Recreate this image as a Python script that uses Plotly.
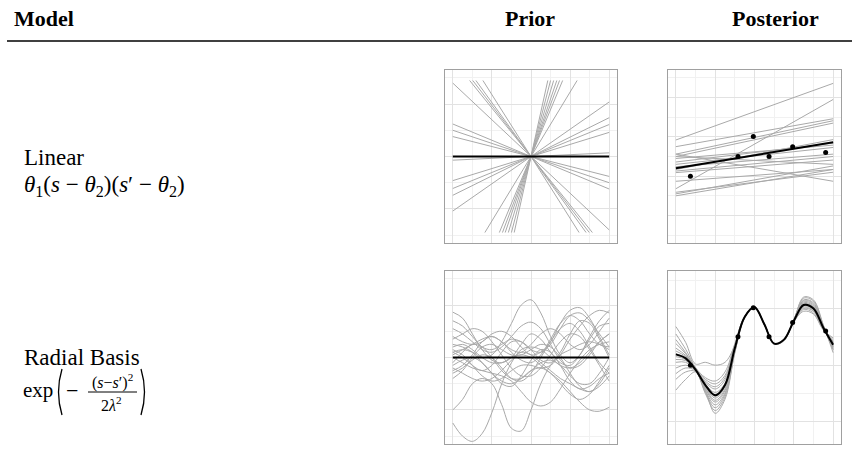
import plotly.graph_objects as go

W, H = 852, 464

# ---------------- data ----------------
# Linear prior: far end (x>0 side) of each sample line through the origin
prior_lin_xend = [2, 2, 2, 2, 1.57, 1.49, 1.41, 1.23,
                  2, 2, 2, 2, 2, 1.18, 0.81, 0.73, 0.66, 0.58, 0.50, 0.43]
prior_lin_yend = [-0.76, -1.0, -1.24, -2.8, -2.9, -2.9, -2.9, -2.9,
                  0.14, 0.92, 1.22, 1.48, 2.08, 2.9, 2.9, 2.9, 2.9, 2.9, 2.9, 2.9]
prior_lin_mean_x = [-2, 2]
prior_lin_mean_y = [0, 0]

# Linear posterior: samples given by value at x=-2 and x=2
post_lin_x = [-2, 2]
post_lin_left = [0.92, -0.32, 0.75, 0.56, 0.50, 0.17, 0.36, 0.45, 0.30,
                 0.24, 0.13, 0.09, 0.50, 0.56, -0.13, -0.41, -0.45, -0.50]
post_lin_right = [2.36, 1.95, 1.46, 1.41, 1.35, 0.93, 0.84, 0.79, 0.73,
                  0.56, 0.50, 0.41, 0.30, -0.13, 0.17, 0.10, 0.26, 0.17]
post_lin_mean_y = [0.20, 0.86]

# observations (shared by both posteriors)
obs_x = [-1.63, -0.42, -0.03, 0.37, 0.97, 1.81]
obs_y = [0.0, 0.50, 1.01, 0.50, 0.75, 0.60]

# RBF samples on a common grid
rbf_x = [-2, -1.75, -1.5, -1.25, -1, -0.75, -0.5, -0.25, 0,
         0.25, 0.5, 0.75, 1, 1.25, 1.5, 1.75, 2]

prior_rbf = [
    [1.73, 1.5, 0.9, 0.3, -0.1, -0.2, 0.0, 0.5, 0.9, 0.7, 0.2, -0.2, -0.3, 0.1, 0.8, 1.4, 1.8],
    [0.2, 0.3, 0.2, 0.0, 0.1, 0.6, 1.3, 2.0, 2.2, 1.7, 0.8, 0.1, -0.2, 0.1, 0.7, 1.2, 1.3],
    [1.1, 0.9, 0.6, 0.3, 0.2, 0.4, 0.8, 1.2, 1.35, 1.1, 0.5, -0.1, -0.4, -0.3, 0.1, 0.6, 0.9],
    [-2.0, -1.6, -1.0, -0.8, -1.0, -1.8, -2.7, -2.8, -2.0, -1.0, -0.3, 0.1, 0.3, 0.5, 0.6, 0.5, 0.3],
    [-2.5, -3.0, -3.2, -2.9, -2.1, -1.0, -0.2, 0.3, 0.4, 0.3, 0.0, -0.3, -0.4, -0.2, 0.2, 0.6, 0.9],
    [0.0, -0.2, -0.4, -0.5, -0.6, -0.7, -0.9, -1.3, -1.7, -1.85, -1.7, -1.2, -0.6, -0.1, 0.3, 0.5, 0.6],
    [0.4, 0.5, 0.3, 0.0, -0.2, -0.2, 0.0, 0.1, 0.0, -0.3, -0.6, -0.9, -1.3, -1.7, -2.0, -2.05, -1.9],
    [0.8, 0.6, 0.5, 0.6, 0.9, 1.0, 0.8, 0.4, 0.1, 0.2, 0.6, 1.3, 1.8, 1.9, 1.5, 0.8, 0.1],
    [1.4, 1.2, 0.8, 0.4, 0.3, 0.5, 0.7, 0.6, 0.3, 0.2, 0.5, 1.1, 1.6, 1.7, 1.4, 0.9, 0.4],
    [-0.6, -0.4, -0.1, 0.1, 0.0, -0.4, -0.8, -0.9, -0.6, 0.0, 0.6, 1.1, 1.3, 1.0, 0.4, -0.2, -0.6],
    [0.3, 0.1, -0.3, -0.7, -0.9, -0.8, -0.5, -0.3, -0.3, -0.4, -0.3, 0.1, 0.7, 1.2, 1.6, 1.8, 1.7],
    [-0.4, -0.6, -0.8, -0.9, -0.8, -0.5, -0.1, 0.2, 0.1, -0.2, -0.5, -0.8, -1.0, -1.2, -1.3, -1.1, -0.7],
    [0.7, 0.9, 1.1, 1.0, 0.6, 0.1, -0.4, -0.7, -0.7, -0.4, 0.1, 0.6, 0.9, 0.8, 0.3, -0.3, -0.9],
    [-0.2, 0.2, 0.5, 0.4, 0.0, -0.5, -0.8, -0.8, -0.5, -0.2, -0.1, -0.3, -0.7, -1.0, -1.0, -0.6, 0.0],
    [0.1, 0.3, 0.5, 0.7, 0.8, 0.6, 0.2, -0.1, -0.2, 0.1, 0.7, 1.3, 1.6, 1.4, 0.9, 0.5, 0.4],
    [-0.8, -0.5, 0.0, 0.4, 0.5, 0.3, 0.1, 0.1, 0.3, 0.5, 0.4, 0.0, -0.6, -1.1, -1.3, -1.0, -0.4],
    [0.5, 0.4, 0.2, -0.2, -0.6, -0.9, -1.0, -0.8, -0.5, -0.4, -0.6, -1.0, -1.4, -1.6, -1.4, -0.9, -0.3],
    [-0.5, -0.3, 0.1, 0.6, 0.8, 0.6, 0.3, 0.2, 0.5, 0.9, 1.1, 0.9, 0.5, 0.3, 0.5, 1.0, 1.5],
    [0.2, 0.0, -0.3, -0.5, -0.3, 0.2, 0.6, 0.6, 0.3, -0.1, -0.2, 0.2, 0.9, 1.4, 1.3, 0.7, 0.0],
    [-0.3, -0.1, 0.0, -0.2, -0.6, -1.0, -1.1, -0.7, -0.1, 0.3, 0.2, -0.3, -0.9, -1.2, -1.1, -0.8, -0.6],
]
prior_rbf_mean = [0] * len(rbf_x)

post_rbf = [
    [0.68, 0.40, 0.02, 0.05, 0.0, 0.05, 0.35, 0.86, 1.02, 0.71, 0.37, 0.44, 0.78, 1.08, 1.02, 0.67, 0.38],
    [-0.44, -0.25, -0.12, -0.45, -0.85, -0.60, 0.22, 0.84, 1.03, 0.73, 0.37, 0.43, 0.80, 1.18, 1.13, 0.70, 0.28],
    [0.45, 0.22, -0.06, -0.30, -0.42, -0.26, 0.33, 0.85, 1.01, 0.72, 0.39, 0.46, 0.77, 1.0, 0.95, 0.64, 0.42],
    [0.05, 0.05, -0.1, -0.42, -0.65, -0.45, 0.27, 0.85, 1.02, 0.72, 0.38, 0.45, 0.79, 1.12, 1.06, 0.67, 0.32],
    [0.30, 0.17, -0.07, -0.28, -0.38, -0.22, 0.35, 0.86, 1.02, 0.72, 0.37, 0.44, 0.76, 0.98, 0.92, 0.63, 0.45],
    [-0.15, -0.05, -0.1, -0.48, -0.75, -0.52, 0.24, 0.84, 1.02, 0.73, 0.38, 0.46, 0.80, 1.15, 1.10, 0.69, 0.30],
    [0.10, 0.08, -0.08, -0.38, -0.58, -0.38, 0.29, 0.85, 1.02, 0.72, 0.38, 0.45, 0.78, 1.08, 1.02, 0.66, 0.34],
    [0.25, 0.15, -0.07, -0.33, -0.48, -0.32, 0.31, 0.85, 1.02, 0.72, 0.38, 0.45, 0.77, 1.04, 0.98, 0.65, 0.38],
    [-0.05, 0.0, -0.09, -0.45, -0.70, -0.49, 0.25, 0.84, 1.02, 0.72, 0.38, 0.45, 0.79, 1.20, 1.15, 0.71, 0.22],
    [0.38, 0.20, -0.06, -0.25, -0.33, -0.18, 0.36, 0.86, 1.02, 0.72, 0.38, 0.45, 0.77, 0.95, 0.90, 0.62, 0.48],
    [0.15, 0.10, -0.08, -0.40, -0.62, -0.42, 0.28, 0.85, 1.02, 0.72, 0.38, 0.45, 0.78, 1.10, 1.04, 0.66, 0.33],
    [0.55, 0.28, -0.04, -0.22, -0.28, -0.12, 0.38, 0.86, 1.02, 0.72, 0.38, 0.45, 0.78, 1.05, 0.99, 0.65, 0.40],
    [-0.25, -0.12, -0.11, -0.50, -0.80, -0.56, 0.23, 0.84, 1.02, 0.72, 0.38, 0.45, 0.79, 1.14, 1.08, 0.68, 0.27],
    [0.20, 0.13, -0.08, -0.36, -0.55, -0.37, 0.30, 0.85, 1.02, 0.72, 0.38, 0.45, 0.78, 1.02, 0.96, 0.64, 0.40],
]
post_rbf_mean = [0.19, 0.12, -0.08, -0.35, -0.53, -0.35, 0.30, 0.85, 1.02,
                 0.72, 0.38, 0.45, 0.78, 1.06, 1.00, 0.66, 0.36]

# ---------------- figure ----------------
GRAY = "#a9a9a9"


def px(x):
    return x / W


def py(y):
    return 1 - y / H


fig = go.Figure()


def add_line(x, y, ax, color=GRAY, width=1, shape="linear"):
    fig.add_trace(go.Scatter(x=x, y=y, mode="lines", xaxis="x" + ax, yaxis="y" + ax,
                             line=dict(color=color, width=width, shape=shape),
                             hoverinfo="skip", showlegend=False))


# panel 1: linear prior
for xe, ye in zip(prior_lin_xend, prior_lin_yend):
    add_line([-xe, xe], [-ye, ye], "")
add_line(prior_lin_mean_x, prior_lin_mean_y, "", "black", 2)

# panel 2: linear posterior
for yl, yr in zip(post_lin_left, post_lin_right):
    add_line(post_lin_x, [yl, yr], "2")
add_line(post_lin_x, post_lin_mean_y, "2", "black", 2)

# panel 3: rbf prior
for s in prior_rbf:
    add_line(rbf_x, s, "3", shape="spline")
add_line(rbf_x, prior_rbf_mean, "3", "black", 2)

# panel 4: rbf posterior
for s in post_rbf:
    add_line(rbf_x, s, "4", shape="spline")
add_line(rbf_x, post_rbf_mean, "4", "black", 2, shape="spline")

for ax in ["2", "4"]:
    fig.add_trace(go.Scatter(x=obs_x, y=obs_y, mode="markers", xaxis="x" + ax, yaxis="y" + ax,
                             marker=dict(color="black", size=5), hoverinfo="skip", showlegend=False))

axis_style = dict(showticklabels=False, ticks="", zeroline=False, showline=True, mirror=True,
                  linecolor="#a0a0a0", linewidth=1, gridcolor="#e2e2e2", gridwidth=1,
                  fixedrange=True)


def xaxis(dom):
    return dict(axis_style, domain=[px(dom[0]), px(dom[1])], range=[-2.2, 2.2],
                tick0=0, dtick=1,
                minor=dict(showgrid=True, tick0=0, dtick=0.5, gridcolor="#f1f1f1", gridwidth=1))


def yaxis(dom, rng, dtick, anchor):
    return dict(axis_style, domain=[py(dom[1]), py(dom[0])], range=rng, tick0=0, dtick=dtick,
                anchor=anchor,
                minor=dict(showgrid=True, tick0=0, dtick=dtick / 2, gridcolor="#f1f1f1", gridwidth=1))


prior_x, post_x = (445, 617), (668, 841)
top_y, bot_y = (70, 243), (271, 444)

fig.update_layout(
    width=W, height=H, margin=dict(l=0, r=0, t=0, b=0),
    paper_bgcolor="white", plot_bgcolor="white",
    font=dict(family="Liberation Serif, Times New Roman, serif", color="black"),
    xaxis=dict(xaxis(prior_x), anchor="y"),
    yaxis=yaxis(top_y, [-3.3, 3.3], 2, "x"),
    xaxis2=dict(xaxis(post_x), anchor="y2"),
    yaxis2=yaxis(top_y, [-1.7, 2.7], 1, "x2"),
    xaxis3=dict(xaxis(prior_x), anchor="y3"),
    yaxis3=yaxis(bot_y, [-3.3, 3.3], 2, "x3"),
    xaxis4=dict(xaxis(post_x), anchor="y4"),
    yaxis4=yaxis(bot_y, [-1.39, 1.66], 1, "x4"),
)


def text(t, x, y, size, xanchor="left"):
    fig.add_annotation(text=t, x=px(x), y=py(y), xref="paper", yref="paper",
                       xanchor=xanchor, yanchor="middle", showarrow=False,
                       font=dict(size=size), align="left")


# header
text("<b>Model</b>", 12, 18, 22)
text("<b>Prior</b>", 530, 18, 22, "center")
text("<b>Posterior</b>", 775, 18, 22, "center")
fig.add_shape(type="line", xref="paper", yref="paper", x0=px(7), x1=1, y0=py(41), y1=py(41),
              line=dict(color="black", width=1.5))

# row labels
text("Linear", 22, 157, 23)
text("<i>θ</i><sub>1</sub>(<i>s</i> − <i>θ</i><sub>2</sub>)(<i>s</i>′ − <i>θ</i><sub>2</sub>)", 22, 186, 23)
text("Radial Basis", 22, 357, 23)
text("exp", 21, 390, 21)
text("−", 64, 390, 22)
text("(<i>s</i>−<i>s</i>′)<sup>2</sup>", 112, 381, 16, "center")
text("2<i>λ</i><sup>2</sup>", 111, 404, 16, "center")
fig.add_shape(type="line", xref="paper", yref="paper", x0=px(88), x1=px(137), y0=py(392), y1=py(392),
              line=dict(color="black", width=1))
# tall parentheses
for x_end, x_mid in [(62, 55), (141, 148)]:
    fig.add_shape(type="path", xref="paper", yref="paper",
                  path=f"M {px(x_end)},{py(369)} Q {px(x_mid)},{py(392)} {px(x_end)},{py(415)}",
                  line=dict(color="black", width=1.3))

fig.write_html("out.html", config={"displayModeBar": False},
               post_script="document.body.style.margin='0';")
